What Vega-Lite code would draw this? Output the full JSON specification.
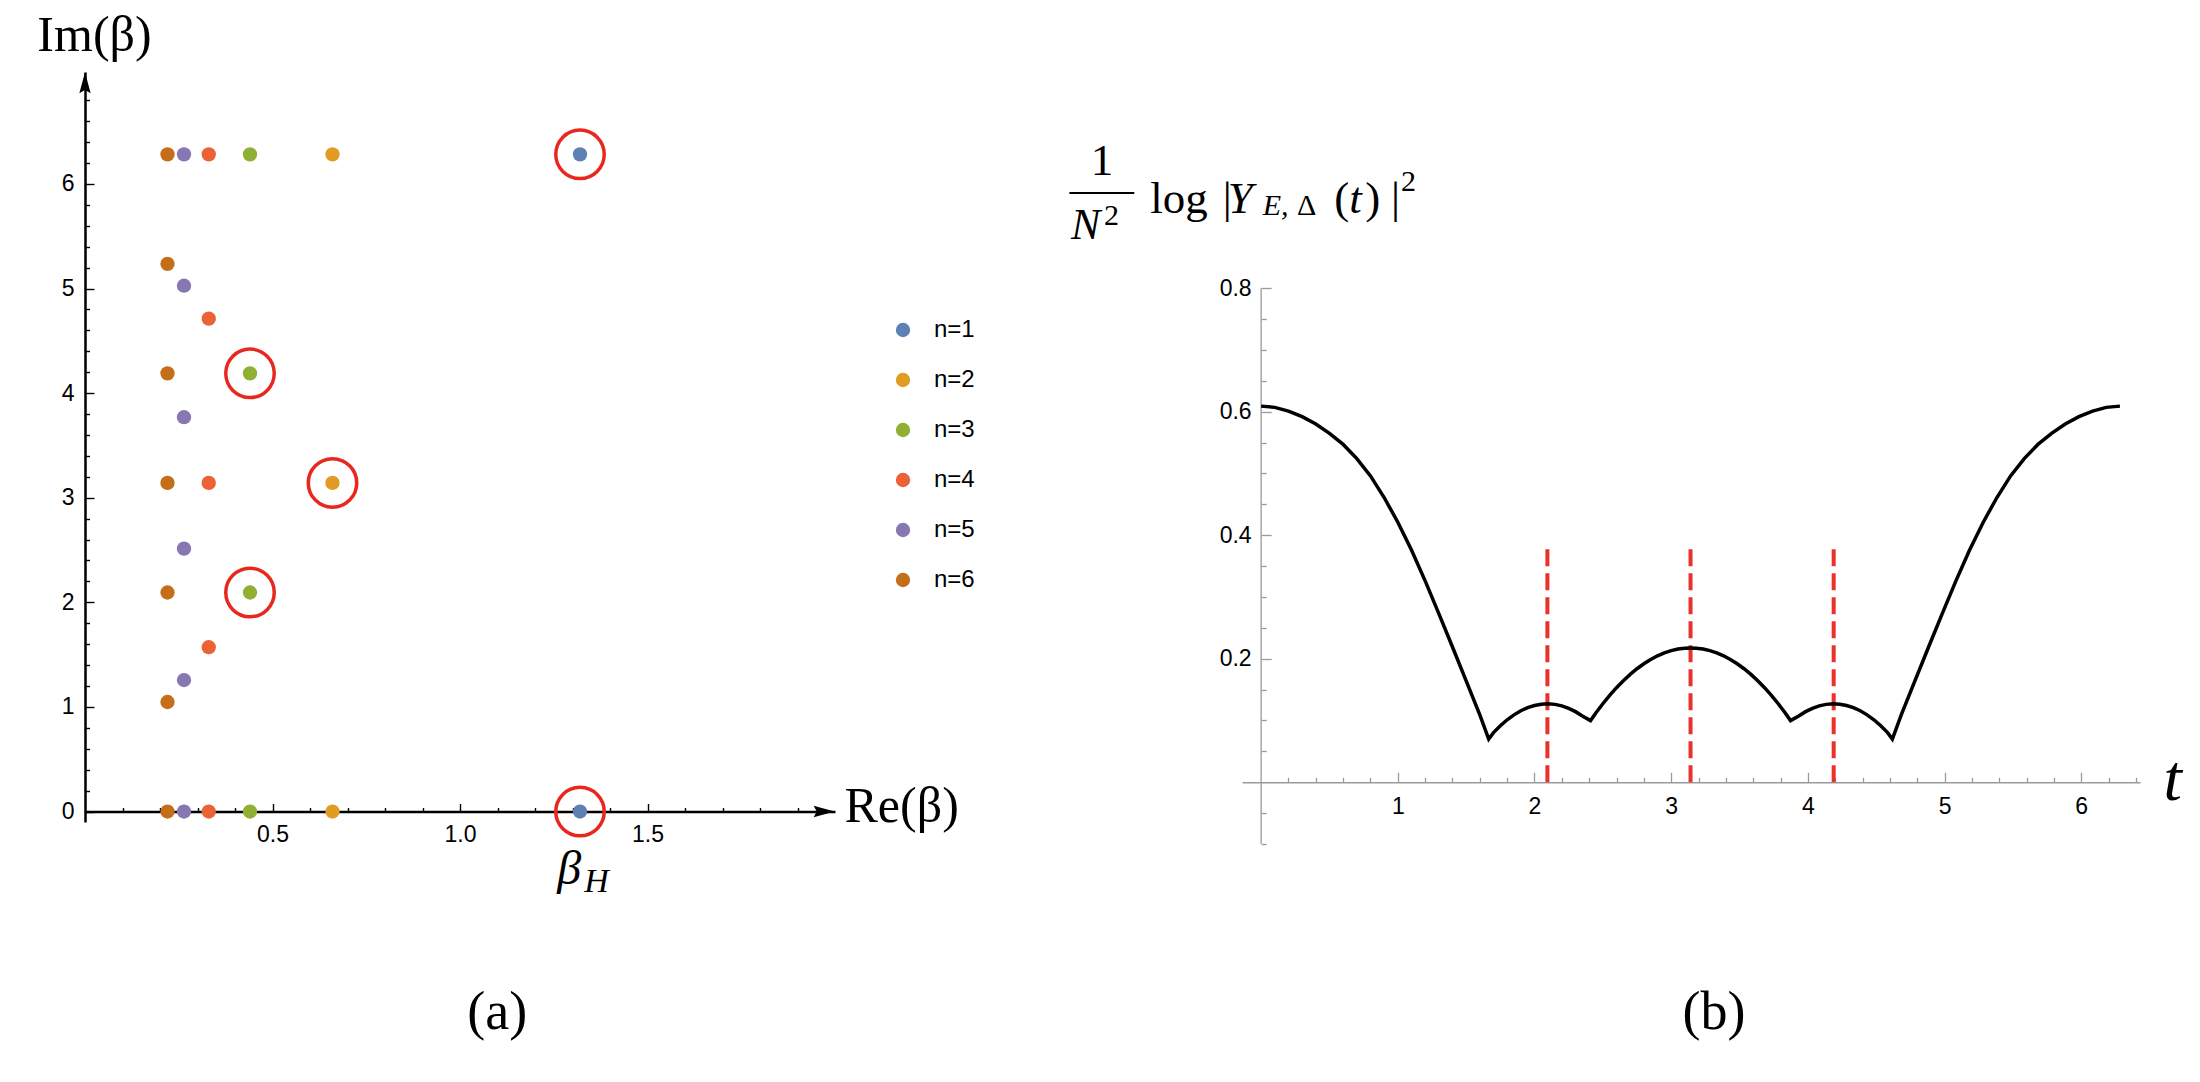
{
  "$schema": "https://vega.github.io/schema/vega-lite/v6.json",
  "background": "white",
  "padding": {"left": 36, "top": 10, "right": 5, "bottom": 5},
  "config": {"view": {"stroke": null}, "font": "Liberation Sans"},
  "spacing": 407,
  "bounds": "flush",
  "datasets": {
    "roots": [
      {"n": "n=1", "re": 1.32, "im": 0, "circled": true},
      {"n": "n=1", "re": 1.32, "im": 6.283, "circled": true},
      {"n": "n=2", "re": 0.66, "im": 0, "circled": false},
      {"n": "n=2", "re": 0.66, "im": 3.142, "circled": true},
      {"n": "n=2", "re": 0.66, "im": 6.283, "circled": false},
      {"n": "n=3", "re": 0.44, "im": 0, "circled": false},
      {"n": "n=3", "re": 0.44, "im": 2.094, "circled": true},
      {"n": "n=3", "re": 0.44, "im": 4.189, "circled": true},
      {"n": "n=3", "re": 0.44, "im": 6.283, "circled": false},
      {"n": "n=4", "re": 0.33, "im": 0, "circled": false},
      {"n": "n=4", "re": 0.33, "im": 1.571, "circled": false},
      {"n": "n=4", "re": 0.33, "im": 3.142, "circled": false},
      {"n": "n=4", "re": 0.33, "im": 4.712, "circled": false},
      {"n": "n=4", "re": 0.33, "im": 6.283, "circled": false},
      {"n": "n=5", "re": 0.264, "im": 0, "circled": false},
      {"n": "n=5", "re": 0.264, "im": 1.257, "circled": false},
      {"n": "n=5", "re": 0.264, "im": 2.513, "circled": false},
      {"n": "n=5", "re": 0.264, "im": 3.770, "circled": false},
      {"n": "n=5", "re": 0.264, "im": 5.027, "circled": false},
      {"n": "n=5", "re": 0.264, "im": 6.283, "circled": false},
      {"n": "n=6", "re": 0.22, "im": 0, "circled": false},
      {"n": "n=6", "re": 0.22, "im": 1.047, "circled": false},
      {"n": "n=6", "re": 0.22, "im": 2.094, "circled": false},
      {"n": "n=6", "re": 0.22, "im": 3.142, "circled": false},
      {"n": "n=6", "re": 0.22, "im": 4.189, "circled": false},
      {"n": "n=6", "re": 0.22, "im": 5.236, "circled": false},
      {"n": "n=6", "re": 0.22, "im": 6.283, "circled": false}
    ],
    "curve": [
      {"t": 0.0, "v": 0.609}, {"t": 0.1, "v": 0.607}, {"t": 0.2, "v": 0.601}, {"t": 0.3, "v": 0.592},
      {"t": 0.4, "v": 0.580}, {"t": 0.5, "v": 0.565}, {"t": 0.6, "v": 0.547}, {"t": 0.7, "v": 0.524},
      {"t": 0.8, "v": 0.496}, {"t": 0.9, "v": 0.461}, {"t": 1.0, "v": 0.421}, {"t": 1.1, "v": 0.376},
      {"t": 1.2, "v": 0.326}, {"t": 1.3, "v": 0.273}, {"t": 1.4, "v": 0.219}, {"t": 1.5, "v": 0.164},
      {"t": 1.6, "v": 0.109}, {"t": 1.665, "v": 0.070},
      {"t": 1.70, "v": 0.0804}, {"t": 1.75, "v": 0.0915}, {"t": 1.80, "v": 0.1011}, {"t": 1.85, "v": 0.1091},
      {"t": 1.90, "v": 0.1157}, {"t": 1.95, "v": 0.1208}, {"t": 2.00, "v": 0.1243}, {"t": 2.05, "v": 0.1264},
      {"t": 2.094, "v": 0.1270}, {"t": 2.15, "v": 0.1261}, {"t": 2.20, "v": 0.1236}, {"t": 2.25, "v": 0.1197},
      {"t": 2.30, "v": 0.1143}, {"t": 2.35, "v": 0.1073}, {"t": 2.41, "v": 0.0998},
      {"t": 2.45, "v": 0.1125}, {"t": 2.50, "v": 0.1271}, {"t": 2.55, "v": 0.1406}, {"t": 2.60, "v": 0.1531},
      {"t": 2.65, "v": 0.1644}, {"t": 2.70, "v": 0.1747}, {"t": 2.75, "v": 0.1838}, {"t": 2.80, "v": 0.1919},
      {"t": 2.85, "v": 0.1988}, {"t": 2.90, "v": 0.2047}, {"t": 2.95, "v": 0.2094}, {"t": 3.00, "v": 0.2131},
      {"t": 3.05, "v": 0.2157}, {"t": 3.10, "v": 0.2171}, {"t": 3.1416, "v": 0.2175},
      {"t": 3.1832, "v": 0.2171}, {"t": 3.2332, "v": 0.2157}, {"t": 3.2832, "v": 0.2131}, {"t": 3.3332, "v": 0.2094},
      {"t": 3.3832, "v": 0.2047}, {"t": 3.4332, "v": 0.1988}, {"t": 3.4832, "v": 0.1919}, {"t": 3.5332, "v": 0.1838},
      {"t": 3.5832, "v": 0.1747}, {"t": 3.6332, "v": 0.1644}, {"t": 3.6832, "v": 0.1531}, {"t": 3.7332, "v": 0.1406},
      {"t": 3.7832, "v": 0.1271}, {"t": 3.8332, "v": 0.1125}, {"t": 3.8732, "v": 0.0998},
      {"t": 3.9332, "v": 0.1073}, {"t": 3.9832, "v": 0.1143}, {"t": 4.0332, "v": 0.1197}, {"t": 4.0832, "v": 0.1236},
      {"t": 4.1332, "v": 0.1261}, {"t": 4.1892, "v": 0.1270}, {"t": 4.2332, "v": 0.1264}, {"t": 4.2832, "v": 0.1243},
      {"t": 4.3332, "v": 0.1208}, {"t": 4.3832, "v": 0.1157}, {"t": 4.4332, "v": 0.1091}, {"t": 4.4832, "v": 0.1011},
      {"t": 4.5332, "v": 0.0915}, {"t": 4.5832, "v": 0.0804}, {"t": 4.6182, "v": 0.070},
      {"t": 4.6832, "v": 0.109}, {"t": 4.7832, "v": 0.164}, {"t": 4.8832, "v": 0.219}, {"t": 4.9832, "v": 0.273},
      {"t": 5.0832, "v": 0.326}, {"t": 5.1832, "v": 0.376}, {"t": 5.2832, "v": 0.421}, {"t": 5.3832, "v": 0.461},
      {"t": 5.4832, "v": 0.496}, {"t": 5.5832, "v": 0.524}, {"t": 5.6832, "v": 0.547}, {"t": 5.7832, "v": 0.565},
      {"t": 5.8832, "v": 0.580}, {"t": 5.9832, "v": 0.592}, {"t": 6.0832, "v": 0.601}, {"t": 6.1832, "v": 0.607},
      {"t": 6.2832, "v": 0.609}
    ],
    "marks": [{"t": 2.0944}, {"t": 3.1416}, {"t": 4.1888}]
  },
  "hconcat": [
    {
      "width": 750,
      "height": 750,
      "layer": [
        {
          "data": {"name": "roots"},
          "mark": {"type": "point", "filled": true, "opacity": 1, "size": 205},
          "encoding": {
            "x": {
              "field": "re", "type": "quantitative",
              "scale": {"domain": [0, 2.0], "nice": false, "zero": false},
              "axis": {
                "title": "Re(β)", "titleAngle": 0, "titleAlign": "left", "titleBaseline": "alphabetic",
                "titleX": 759, "titleY": 10, "titleFont": "Liberation Serif", "titleFontSize": 50,
                "titleFontWeight": "normal", "titleColor": "black",
                "offset": -10.46, "tickCount": 200,
                "values": [0.1, 0.2, 0.3, 0.4, 0.5, 0.6, 0.7, 0.8, 0.9, 1, 1.1, 1.2, 1.3, 1.4, 1.5, 1.6, 1.7, 1.8, 1.9],
                "labelExpr": "abs(datum.value*2 - round(datum.value*2)) < 0.001 ? format(datum.value, '.1f') : ''",
                "tickSize": {"condition": {"test": "abs(datum.value*2 - round(datum.value*2)) < 0.001", "value": -8}, "value": -4},
                "tickColor": "black", "tickWidth": 1.4,
                "domainColor": "black", "domainWidth": 2.5,
                "labelFont": "Liberation Sans", "labelFontSize": 23, "labelColor": "black",
                "labelPadding": 20, "labelFlush": false, "labelOverlap": false, "grid": false
              }
            },
            "y": {
              "field": "im", "type": "quantitative",
              "scale": {"domain": [-0.1, 7.07], "nice": false, "zero": false},
              "axis": {
                "title": "Im(β)", "titleAngle": 0, "titleAlign": "center", "titleBaseline": "alphabetic",
                "titleX": 9, "titleY": -22, "titleFont": "Liberation Serif", "titleFontSize": 50,
                "titleFontWeight": "normal", "titleColor": "black",
                "tickCount": 200,
                "values": [0, 0.2, 0.4, 0.6, 0.8, 1, 1.2, 1.4, 1.6, 1.8, 2, 2.2, 2.4, 2.6, 2.8, 3, 3.2, 3.4, 3.6, 3.8, 4, 4.2, 4.4, 4.6, 4.8, 5, 5.2, 5.4, 5.6, 5.8, 6, 6.2, 6.4, 6.6, 6.8],
                "labelExpr": "abs(datum.value - round(datum.value)) < 0.001 ? format(datum.value, 'd') : ''",
                "tickSize": {"condition": {"test": "abs(datum.value - round(datum.value)) < 0.001", "value": -9}, "value": -4.5},
                "tickColor": "black", "tickWidth": 1.4,
                "domainColor": "black", "domainWidth": 2.5,
                "labelFont": "Liberation Sans", "labelFontSize": 23, "labelColor": "black",
                "labelPadding": 20, "labelFlush": false, "labelOverlap": false, "grid": false
              }
            },
            "color": {
              "field": "n", "type": "nominal",
              "scale": {
                "domain": ["n=1", "n=2", "n=3", "n=4", "n=5", "n=6"],
                "range": ["#5E81B5", "#E19C24", "#8FB032", "#EB6235", "#8778B3", "#C56E1A"]
              },
              "legend": {
                "orient": "none", "legendX": 806, "legendY": 246, "title": null,
                "labelFont": "Liberation Sans", "labelFontSize": 24, "labelColor": "black",
                "symbolSize": 205, "symbolType": "circle", "symbolStrokeWidth": 0,
                "labelOffset": 19, "rowPadding": 26, "padding": 0
              }
            }
          }
        },
        {
          "data": {"name": "roots"},
          "transform": [{"filter": "datum.circled"}],
          "mark": {"type": "point", "filled": false, "stroke": "#E8281E", "color": "#E8281E", "strokeWidth": 3.5, "size": 2350, "opacity": 1},
          "encoding": {
            "x": {"field": "re", "type": "quantitative"},
            "y": {"field": "im", "type": "quantitative"}
          }
        },
        {
          "data": {"values": [{}]},
          "mark": {"type": "point", "shape": "M0,-1L0.54,1L0,0.7L-0.54,1Z", "filled": true, "color": "black", "opacity": 1, "size": 441},
          "encoding": {"x": {"datum": 0}, "y": {"datum": 6.967}}
        },
        {
          "data": {"values": [{}]},
          "mark": {"type": "point", "shape": "M1,0L-1,0.54L-0.7,0L-1,-0.54Z", "filled": true, "color": "black", "opacity": 1, "size": 441},
          "encoding": {"x": {"datum": 1.971}, "y": {"datum": 0}}
        },
        {
          "data": {"values": [{}]},
          "mark": {"type": "text", "text": "β", "font": "Liberation Serif", "fontStyle": "italic", "fontSize": 48, "align": "center", "baseline": "alphabetic", "color": "black"},
          "encoding": {"x": {"datum": 1.2915}, "y": {"datum": -0.693}}
        },
        {
          "data": {"values": [{}]},
          "mark": {"type": "text", "text": "H", "font": "Liberation Serif", "fontStyle": "italic", "fontSize": 34, "align": "left", "baseline": "alphabetic", "color": "black"},
          "encoding": {"x": {"datum": 1.3315}, "y": {"datum": -0.767}}
        },
        {
          "data": {"values": [{}]},
          "mark": {"type": "text", "text": "(a)", "font": "Liberation Serif", "fontSize": 54, "align": "center", "baseline": "alphabetic", "color": "black"},
          "encoding": {"x": {"datum": 1.0995}, "y": {"datum": -2.079}}
        }
      ]
    },
    {
      "width": 898,
      "height": 772,
      "layer": [
        {
          "data": {"values": [{}]},
          "mark": {"type": "rule", "color": "#9a9a9a", "strokeWidth": 1.3},
          "encoding": {"x": {"datum": 0}, "y": {"datum": -0.1}, "y2": {"datum": 0.8}}
        },
        {
          "data": {"name": "marks"},
          "mark": {"type": "rule", "color": "#E8322A", "strokeWidth": 4, "strokeDash": [17, 7]},
          "encoding": {
            "x": {"field": "t", "type": "quantitative"},
            "y": {"datum": 0},
            "y2": {"datum": 0.385}
          }
        },
        {
          "data": {"name": "curve"},
          "mark": {"type": "line", "color": "black", "strokeWidth": 3.5},
          "encoding": {
            "x": {
              "field": "t", "type": "quantitative",
              "scale": {"domain": [-0.14, 6.43], "nice": false, "zero": false},
              "axis": {
                "title": "t", "titleAngle": 0, "titleAlign": "left", "titleBaseline": "alphabetic",
                "titleX": 921, "titleY": 17.5, "titleFont": "Liberation Serif", "titleFontStyle": "italic",
                "titleFontSize": 66, "titleFontWeight": "normal", "titleColor": "black",
                "offset": -61.76, "tickCount": 200,
                "values": [0.2, 0.4, 0.6, 0.8, 1, 1.2, 1.4, 1.6, 1.8, 2, 2.2, 2.4, 2.6, 2.8, 3, 3.2, 3.4, 3.6, 3.8, 4, 4.2, 4.4, 4.6, 4.8, 5, 5.2, 5.4, 5.6, 5.8, 6, 6.2, 6.4],
                "labelExpr": "abs(datum.value - round(datum.value)) < 0.001 ? format(datum.value, 'd') : ''",
                "tickSize": {"condition": {"test": "abs(datum.value - round(datum.value)) < 0.001", "value": -10}, "value": -5},
                "tickColor": "#9a9a9a", "tickWidth": 1.3,
                "domainColor": "#9a9a9a", "domainWidth": 1.3,
                "labelFont": "Liberation Sans", "labelFontSize": 23, "labelColor": "black",
                "labelPadding": 23, "labelFlush": false, "labelOverlap": false, "grid": false
              }
            },
            "y": {
              "field": "v", "type": "quantitative",
              "scale": {"domain": [-0.1, 1.15], "nice": false, "zero": false},
              "axis": {
                "title": null,
                "offset": -19.14, "tickCount": 200,
                "domain": false,
                "values": [-0.1, -0.05, 0.05, 0.1, 0.15, 0.2, 0.25, 0.3, 0.35, 0.4, 0.45, 0.5, 0.55, 0.6, 0.65, 0.7, 0.75, 0.8],
                "labelExpr": "datum.value > 0.01 && abs(datum.value*5 - round(datum.value*5)) < 0.001 ? format(datum.value, '.1f') : ''",
                "tickSize": {"condition": {"test": "datum.value > 0.01 && abs(datum.value*5 - round(datum.value*5)) < 0.001", "value": -10}, "value": -5},
                "tickColor": "#9a9a9a", "tickWidth": 1.3,
                "labelFont": "Liberation Sans", "labelFontSize": 23, "labelColor": "black",
                "labelPadding": 20, "labelFlush": false, "labelOverlap": false, "grid": false
              }
            }
          }
        },
        {
          "data": {"values": [{}]},
          "mark": {"type": "text", "text": "1", "font": "Liberation Serif", "fontSize": 45, "align": "center", "baseline": "alphabetic", "color": "black"},
          "encoding": {"x": {"datum": -1.164}, "y": {"datum": 0.9837}}
        },
        {
          "data": {"values": [{}]},
          "mark": {"type": "rule", "color": "black", "strokeWidth": 2},
          "encoding": {"x": {"datum": -1.403}, "x2": {"datum": -0.928}, "y": {"datum": 0.954}}
        },
        {
          "data": {"values": [{}]},
          "mark": {"type": "text", "text": "N", "font": "Liberation Serif", "fontStyle": "italic", "fontSize": 44, "align": "left", "baseline": "alphabetic", "color": "black"},
          "encoding": {"x": {"datum": -1.391}, "y": {"datum": 0.8795}}
        },
        {
          "data": {"values": [{}]},
          "mark": {"type": "text", "text": "2", "font": "Liberation Serif", "fontSize": 30, "align": "left", "baseline": "alphabetic", "color": "black"},
          "encoding": {"x": {"datum": -1.150}, "y": {"datum": 0.9027}}
        },
        {
          "data": {"values": [{}]},
          "mark": {"type": "text", "text": "log", "font": "Liberation Serif", "fontSize": 45, "align": "left", "baseline": "alphabetic", "color": "black"},
          "encoding": {"x": {"datum": -0.811}, "y": {"datum": 0.9216}}
        },
        {
          "data": {"values": [{}]},
          "mark": {"type": "text", "text": "|", "font": "Liberation Serif", "fontSize": 45, "align": "left", "baseline": "alphabetic", "color": "black"},
          "encoding": {"x": {"datum": -0.281}, "y": {"datum": 0.9216}}
        },
        {
          "data": {"values": [{}]},
          "mark": {"type": "text", "text": "Y", "font": "Liberation Serif", "fontStyle": "italic", "fontSize": 45, "align": "left", "baseline": "alphabetic", "color": "black"},
          "encoding": {"x": {"datum": -0.244}, "y": {"datum": 0.9216}}
        },
        {
          "data": {"values": [{}]},
          "mark": {"type": "text", "text": "E,", "font": "Liberation Serif", "fontStyle": "italic", "fontSize": 30, "align": "left", "baseline": "alphabetic", "color": "black"},
          "encoding": {"x": {"datum": 0.0117}, "y": {"datum": 0.9184}}
        },
        {
          "data": {"values": [{}]},
          "mark": {"type": "text", "text": "Δ", "font": "Liberation Serif", "fontSize": 30, "align": "left", "baseline": "alphabetic", "color": "black"},
          "encoding": {"x": {"datum": 0.262}, "y": {"datum": 0.9184}}
        },
        {
          "data": {"values": [{}]},
          "mark": {"type": "text", "text": "(", "font": "Liberation Serif", "fontSize": 45, "align": "left", "baseline": "alphabetic", "color": "black"},
          "encoding": {"x": {"datum": 0.5356}, "y": {"datum": 0.9216}}
        },
        {
          "data": {"values": [{}]},
          "mark": {"type": "text", "text": "t", "font": "Liberation Serif", "fontStyle": "italic", "fontSize": 45, "align": "left", "baseline": "alphabetic", "color": "black"},
          "encoding": {"x": {"datum": 0.6453}, "y": {"datum": 0.9216}}
        },
        {
          "data": {"values": [{}]},
          "mark": {"type": "text", "text": ")", "font": "Liberation Serif", "fontSize": 45, "align": "left", "baseline": "alphabetic", "color": "black"},
          "encoding": {"x": {"datum": 0.762}, "y": {"datum": 0.9216}}
        },
        {
          "data": {"values": [{}]},
          "mark": {"type": "text", "text": "|", "font": "Liberation Serif", "fontSize": 45, "align": "left", "baseline": "alphabetic", "color": "black"},
          "encoding": {"x": {"datum": 0.9504}, "y": {"datum": 0.9216}}
        },
        {
          "data": {"values": [{}]},
          "mark": {"type": "text", "text": "2", "font": "Liberation Serif", "fontSize": 30, "align": "left", "baseline": "alphabetic", "color": "black"},
          "encoding": {"x": {"datum": 1.0236}, "y": {"datum": 0.9566}}
        },
        {
          "data": {"values": [{}]},
          "mark": {"type": "text", "text": "(b)", "font": "Liberation Serif", "fontSize": 54, "align": "center", "baseline": "alphabetic", "color": "black"},
          "encoding": {"x": {"datum": 3.3136}, "y": {"datum": -0.399}}
        }
      ]
    }
  ]
}
